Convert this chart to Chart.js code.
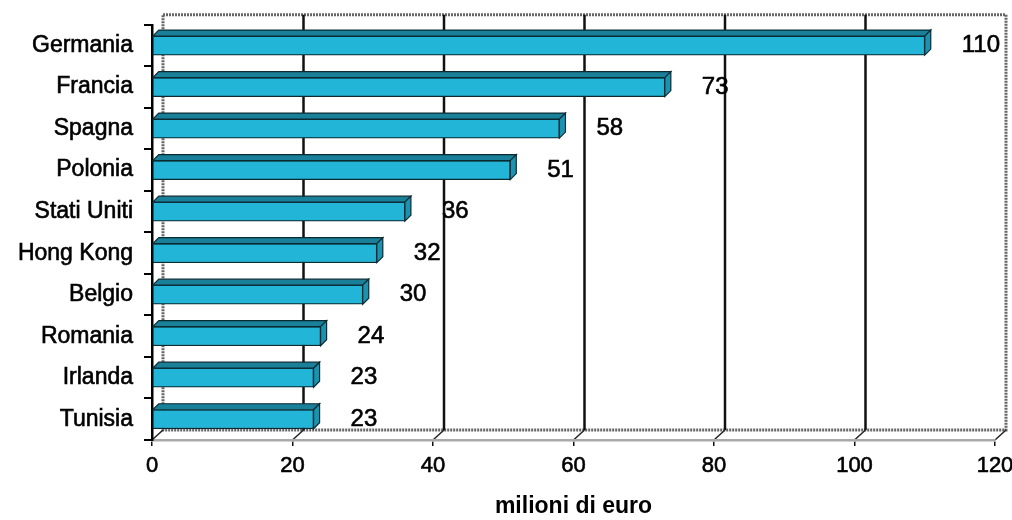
<!DOCTYPE html>
<html>
<head>
<meta charset="utf-8">
<script src="https://cdn.jsdelivr.net/npm/chart.js@4/dist/chart.umd.min.js"></script>
<style>
  html, body { margin: 0; padding: 0; background: #fff; }
  #wrap { width: 1012px; height: 520px; }
</style>
</head>
<body>
<div id="wrap"><canvas id="chart"></canvas></div>
<script>
// data
const countries = ['Germania', 'Francia', 'Spagna', 'Polonia', 'Stati Uniti', 'Hong Kong', 'Belgio', 'Romania', 'Irlanda', 'Tunisia'];
const values = [110, 73, 58, 51, 36, 32, 30, 24, 23, 23];
const xTicks = [0, 20, 40, 60, 80, 100, 120];
const axisTitle = 'milioni di euro';

const FONT = '"Liberation Sans", Arial, sans-serif';
const DEPTH = 11;   // depth of the back wall
const BAR_D = 6;    // depth of each bar

// back wall, gridlines and floor (3D look, like the excel chart)
const wallPlugin = {
  id: 'wall',
  beforeDraw(chart) {
    const { ctx, chartArea } = chart;
    const xs = chart.scales.x;
    const top = chartArea.top - DEPTH + 1, bottom = chartArea.bottom - DEPTH + 1;
    const left = xs.getPixelForValue(xTicks[0]) + DEPTH;
    const right = xs.getPixelForValue(xTicks[xTicks.length - 1]) + DEPTH;
    ctx.save();
    ctx.fillStyle = '#fff';
    ctx.fillRect(0, 0, chart.width, chart.height);

    // wall outline (dotted grey)
    ctx.strokeStyle = '#666';
    ctx.lineWidth = 3;
    ctx.setLineDash([2, 1]);
    ctx.strokeRect(left, top, right - left, bottom - top);
    ctx.setLineDash([]);

    // gridlines on the back wall
    xTicks.slice(1, -1).forEach(v => {
      const px = xs.getPixelForValue(v) + DEPTH;
      ctx.strokeStyle = '#111';
      ctx.lineWidth = 2.5;
      ctx.beginPath();
      ctx.moveTo(px, top);
      ctx.lineTo(px, bottom);
      ctx.stroke();
    });

    // floor diagonals from the front ticks to the wall
    ctx.strokeStyle = '#222';
    ctx.lineWidth = 1.5;
    xTicks.forEach(v => {
      const px = xs.getPixelForValue(v);
      ctx.beginPath();
      ctx.moveTo(px, chartArea.bottom);
      ctx.lineTo(px + DEPTH, bottom);
      ctx.stroke();
    });
    ctx.restore();
  }
};

// top and side faces of the bars + value labels
const barsPlugin = {
  id: 'bars3d',
  afterDatasetsDraw(chart) {
    const { ctx } = chart;
    const meta = chart.getDatasetMeta(0);
    ctx.save();
    meta.data.forEach((bar, i) => {
      const p = bar.getProps(['x', 'y', 'base', 'height'], true);
      const t = p.y - p.height / 2, b = p.y + p.height / 2;
      ctx.lineWidth = 1.2;
      ctx.strokeStyle = '#0b2b33';
      // top face
      ctx.fillStyle = '#1a7f98';
      ctx.beginPath();
      ctx.moveTo(p.base, t);
      ctx.lineTo(p.base + BAR_D, t - BAR_D);
      ctx.lineTo(p.x + BAR_D, t - BAR_D);
      ctx.lineTo(p.x, t);
      ctx.closePath();
      ctx.fill();
      ctx.stroke();
      // side face
      ctx.fillStyle = '#1b93b0';
      ctx.beginPath();
      ctx.moveTo(p.x, t);
      ctx.lineTo(p.x + BAR_D, t - BAR_D);
      ctx.lineTo(p.x + BAR_D, b - BAR_D);
      ctx.lineTo(p.x, b);
      ctx.closePath();
      ctx.fill();
      ctx.stroke();

      // value label
      ctx.fillStyle = '#000';
      ctx.strokeStyle = '#000';
      ctx.lineWidth = 0.6;
      ctx.font = '24px ' + FONT;
      ctx.textAlign = 'left';
      ctx.textBaseline = 'middle';
      ctx.fillText(String(values[i]), p.x + 37, p.y);
      ctx.strokeText(String(values[i]), p.x + 37, p.y);
    });
    ctx.restore();
  }
};

new Chart(document.getElementById('chart'), {
  type: 'bar',
  data: {
    labels: countries,
    datasets: [{
      data: values,
      backgroundColor: '#22b5d8',
      borderColor: '#0b2b33',
      borderWidth: 1.2,
      borderSkipped: false,
      barThickness: 19
    }]
  },
  options: {
    indexAxis: 'y',
    responsive: true,
    maintainAspectRatio: false,
    animation: false,
    layout: { padding: { top: 24, right: 17, left: 0, bottom: 0 } },
    plugins: {
      legend: { display: false },
      tooltip: { enabled: false }
    },
    scales: {
      x: {
        min: 0,
        max: 120,
        ticks: {
          stepSize: 20,
          color: '#000',
          font: { family: FONT, size: 22 },
          textStrokeColor: '#000',
          textStrokeWidth: 0.6,
          padding: 7
        },
        grid: {
          display: true,
          drawOnChartArea: false,
          drawTicks: true,
          tickLength: 6,
          color: '#111',
          lineWidth: 1.5
        },
        border: { display: true, color: '#aaa', width: 2.5 },
        title: {
          display: true,
          text: axisTitle,
          color: '#000',
          font: { family: FONT, size: 23, weight: 'bold' },
          padding: { top: 24, bottom: 0 }
        },
        afterFit(s) {
          s.height = 80;
          s.paddingRight = 0;
        }
      },
      y: {
        ticks: {
          color: '#000',
          font: { family: FONT, size: 23 },
          textStrokeColor: '#000',
          textStrokeWidth: 0.6,
          padding: 11
        },
        grid: {
          display: true,
          offset: true,
          drawOnChartArea: false,
          drawTicks: true,
          tickLength: 8,
          color: '#000',
          lineWidth: 2
        },
        border: { display: true, color: '#000', width: 2.5 },
        afterFit(s) { s.width = 152; }
      }
    }
  },
  plugins: [wallPlugin, barsPlugin]
});
</script>
</body>
</html>
